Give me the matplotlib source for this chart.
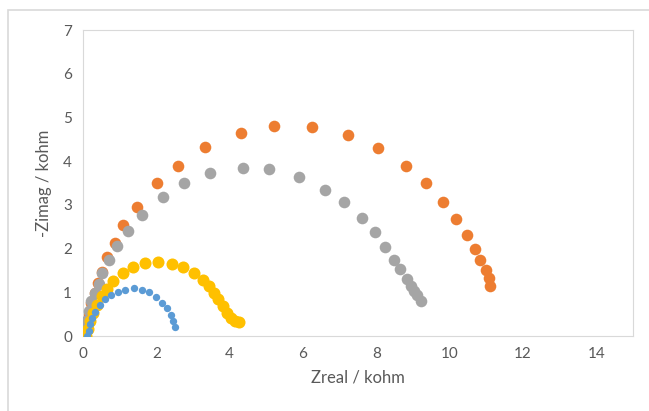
import matplotlib.pyplot as plt
from matplotlib.patches import Rectangle

# impedance data (kohm)
blue_x = [0.12, 0.15, 0.19, 0.25, 0.34, 0.45, 0.60, 0.77, 0.96, 1.15, 1.40, 1.60,
          1.80, 2.00, 2.16, 2.30, 2.39, 2.45, 2.50]
blue_y = [0.00, 0.11, 0.27, 0.42, 0.55, 0.70, 0.84, 0.93, 1.00, 1.06, 1.09, 1.06,
          1.00, 0.89, 0.76, 0.65, 0.49, 0.34, 0.21]

orange_x = [0.09, 0.14, 0.23, 0.32, 0.41, 0.51, 0.65, 0.86, 1.10, 1.48, 2.02, 2.59,
            3.34, 4.32, 5.21, 6.25, 7.23, 8.05, 8.80, 9.36, 9.83, 10.18, 10.47,
            10.69, 10.84, 10.98, 11.07, 11.11]
orange_y = [0.15, 0.46, 0.76, 0.99, 1.21, 1.47, 1.80, 2.13, 2.53, 2.96, 3.49, 3.90,
            4.32, 4.64, 4.80, 4.78, 4.60, 4.31, 3.90, 3.51, 3.07, 2.67, 2.31,
            2.00, 1.74, 1.50, 1.32, 1.15]

gray_x = [0.06, 0.09, 0.15, 0.23, 0.32, 0.43, 0.53, 0.72, 0.92, 1.24, 1.61, 2.18,
          2.76, 3.47, 4.36, 5.08, 5.88, 6.59, 7.12, 7.60, 7.96, 8.24, 8.48, 8.65,
          8.83, 8.94, 9.03, 9.12, 9.21]
gray_y = [0.11, 0.34, 0.57, 0.80, 0.99, 1.19, 1.44, 1.73, 2.05, 2.41, 2.77, 3.19,
          3.49, 3.73, 3.85, 3.81, 3.63, 3.35, 3.06, 2.70, 2.38, 2.04, 1.75, 1.53,
          1.31, 1.14, 1.03, 0.93, 0.81]

yellow_x = [0.09, 0.14, 0.20, 0.28, 0.39, 0.51, 0.65, 0.82, 1.09, 1.36, 1.68, 2.04,
            2.42, 2.74, 3.02, 3.27, 3.43, 3.58, 3.69, 3.81, 3.92, 4.03, 4.14, 4.26]
yellow_y = [0.00, 0.15, 0.34, 0.53, 0.72, 0.91, 1.08, 1.25, 1.44, 1.57, 1.67, 1.69,
            1.65, 1.58, 1.44, 1.28, 1.14, 0.99, 0.84, 0.68, 0.53, 0.42, 0.34, 0.32]

plt.rcParams['font.family'] = ['Lato', 'DejaVu Sans']

fig = plt.figure(figsize=(6.49, 4.11), dpi=100)
ax = fig.add_axes([83/649, 1-336/411, (633-83)/649, (336-30)/411])

# outer chart border, Excel style
fig.patches.append(Rectangle((8/649, -0.1), 1.0, 1 - 10/411 + 0.1,
                             transform=fig.transFigure, fill=False,
                             edgecolor='#d9d9d9', linewidth=1.2))

ax.scatter(orange_x, orange_y, s=70, c='#ED7D31', linewidths=0, zorder=2)
ax.scatter(gray_x, gray_y, s=70, c='#A5A5A5', linewidths=0, zorder=3)
ax.scatter(yellow_x, yellow_y, s=75, c='#FFC000', linewidths=0, zorder=4)
ax.scatter(blue_x, blue_y, s=28, c='#5B9BD5', linewidths=0, zorder=5)

ax.set_xlim(0, 15)
ax.set_ylim(0, 7)
ax.set_xticks(range(0, 15, 2))
ax.set_yticks(range(0, 8))
for s in ax.spines.values():
    s.set_color('#d9d9d9')
ax.tick_params(length=0, labelsize=11, colors='#595959', pad=8)
ax.set_xlabel('Zreal / kohm', fontsize=12, color='#595959', labelpad=6)
ax.set_ylabel('-Zimag / kohm', fontsize=12, color='#595959', labelpad=8)

fig.savefig('out.png', dpi=100)
